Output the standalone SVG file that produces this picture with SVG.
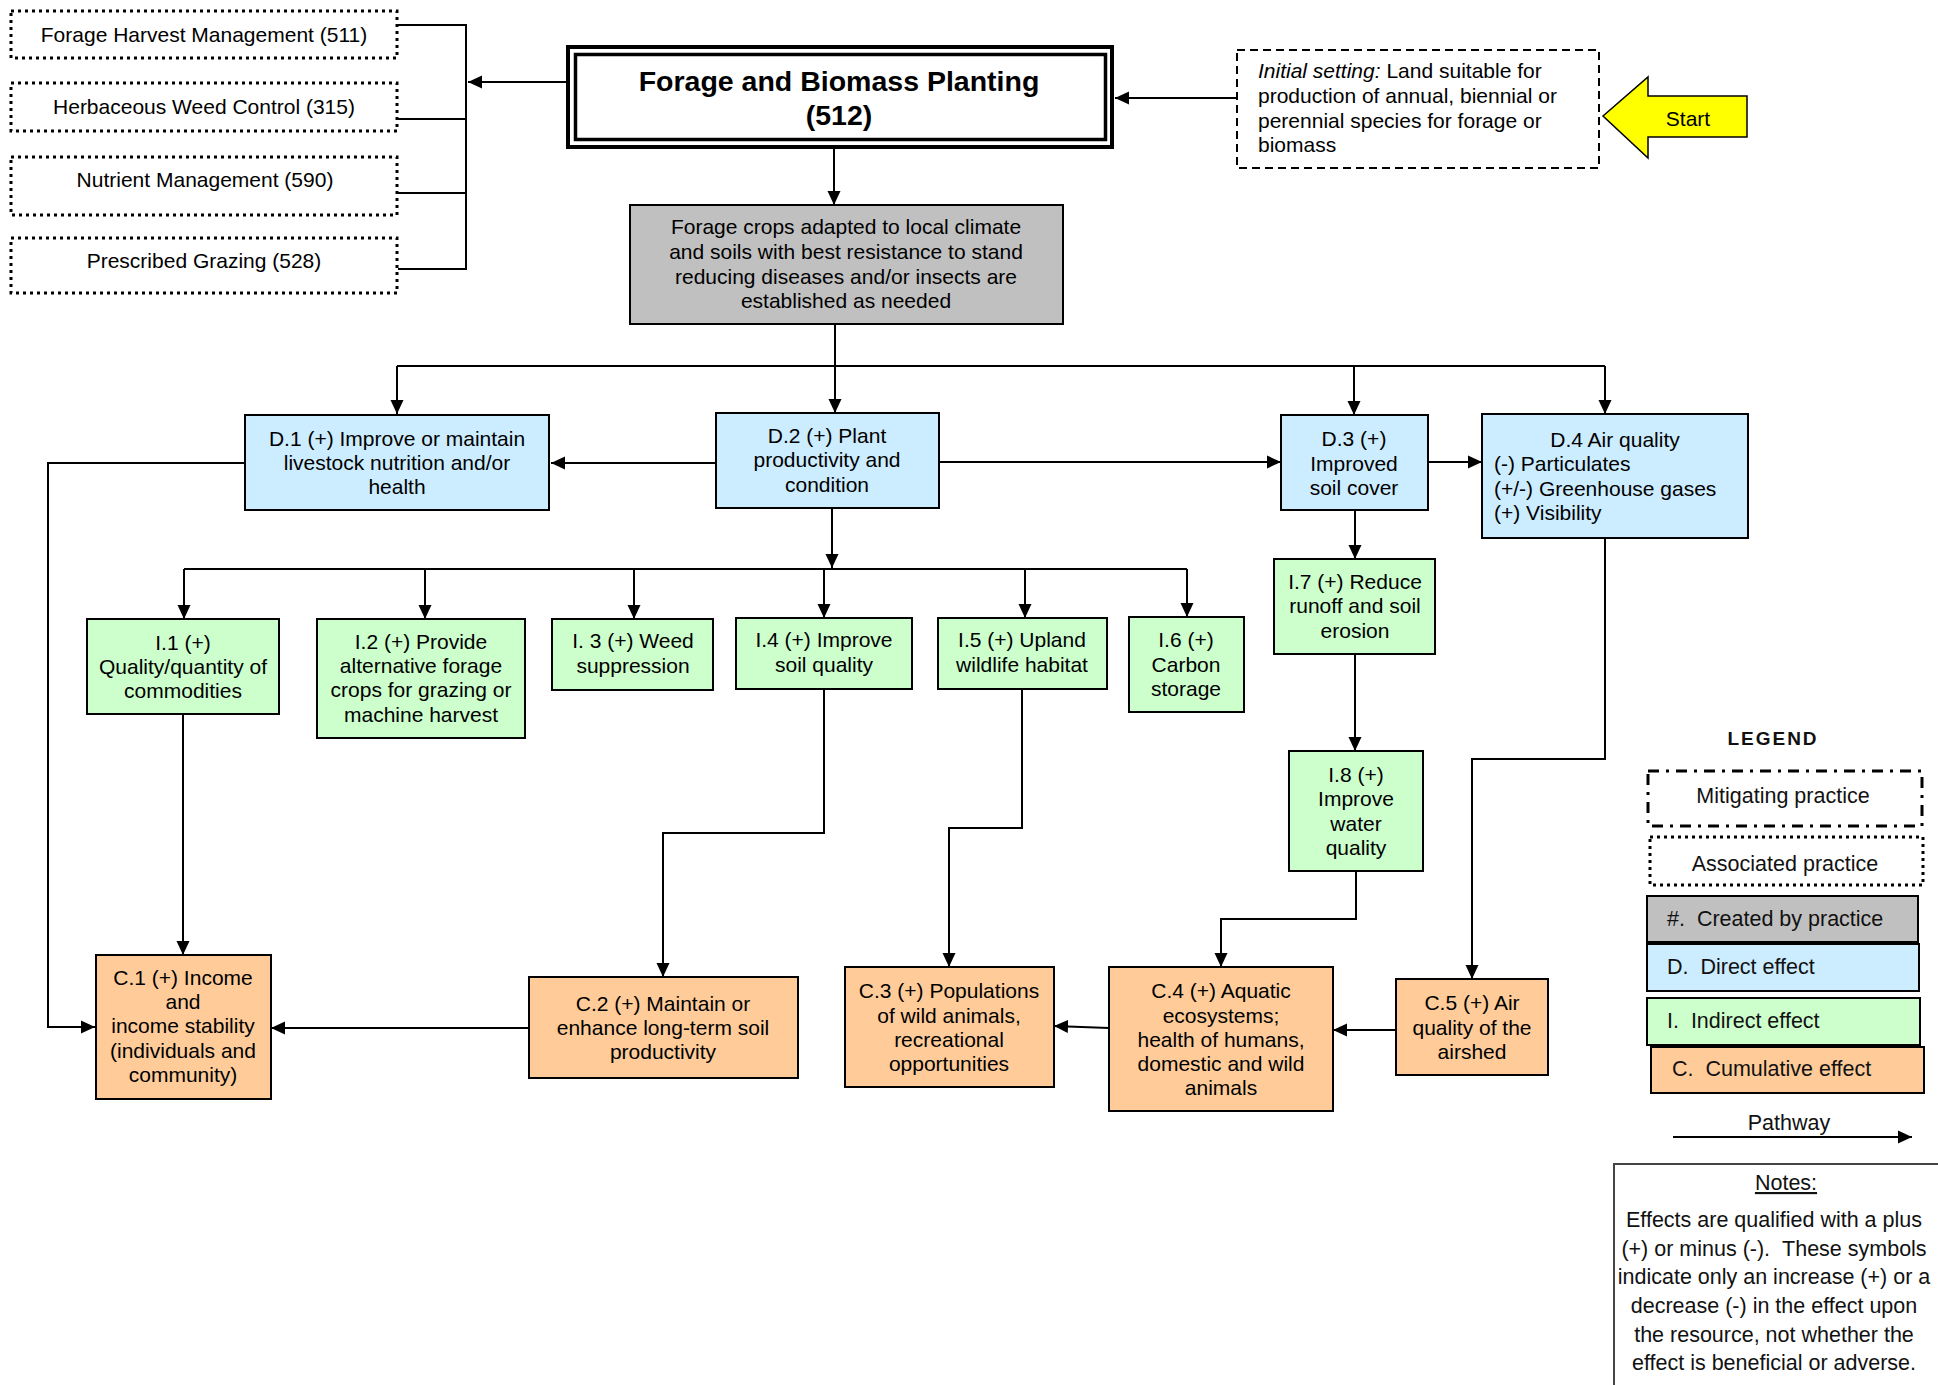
<svg xmlns="http://www.w3.org/2000/svg" width="1938" height="1385" viewBox="0 0 1938 1385">
<style>
.t{font-family:"Liberation Sans",Arial,sans-serif;font-size:21px;text-anchor:middle;fill:#000}
.tl{text-anchor:start}
.title{font-size:28.5px;font-weight:bold}
.b{stroke:#000;stroke-width:2}
.d{fill:#CCECFF}
.i{fill:#CCFFCC}
.c{fill:#FFCC99}
.g{fill:#C0C0C0}
.assoc{fill:#fff;stroke:#000;stroke-width:3;stroke-dasharray:3 4}
.mitig{fill:#fff;stroke:#000;stroke-width:3;stroke-dasharray:11 7 3 7}
.lg{font-family:"Liberation Sans",Arial,sans-serif;font-size:21.5px;fill:#111}
.lgc{text-anchor:middle}
.lgh{font-size:19px;font-weight:bold;letter-spacing:2px}
#connectors path{fill:none;stroke:#000;stroke-width:2}
.arr{marker-end:url(#ah)}
</style>
<defs>
<marker id="ah" markerUnits="userSpaceOnUse" markerWidth="14" markerHeight="14" refX="14" refY="7" orient="auto" viewBox="0 0 14 14"><path d="M0,0.5 L14,7 L0,13.5 z" fill="#000"/></marker>
</defs>
<rect width="1938" height="1385" fill="#fff"/>

<g id="connectors">
<path d="M398,25 H466 M398,119 H466 M398,193 H466 M398,269 H466 M466,24 V270"/>
<path class="arr" d="M566,82 H468"/>
<path class="arr" d="M1237,98 H1115"/>
<path class="arr" d="M834,149 V205"/>
<path d="M835,324 V366 M397,366 H1605"/>
<path class="arr" d="M397,366 V414"/>
<path class="arr" d="M835,366 V413"/>
<path class="arr" d="M1354,366 V415"/>
<path class="arr" d="M1605,366 V414"/>
<path class="arr" d="M716,463 H551"/>
<path class="arr" d="M245,463 H48 V1027 H95"/>
<path class="arr" d="M939,462 H1281"/>
<path class="arr" d="M1428,462 H1482"/>
<path class="arr" d="M832,508 V568"/>
<path d="M184,569 H1187"/>
<path class="arr" d="M184,569 V619"/>
<path class="arr" d="M425,569 V619"/>
<path class="arr" d="M634,569 V619"/>
<path class="arr" d="M824,569 V618"/>
<path class="arr" d="M1025,569 V618"/>
<path class="arr" d="M1187,569 V617"/>
<path class="arr" d="M1355,510 V559"/>
<path class="arr" d="M1355,654 V751"/>
<path class="arr" d="M183,714 V955"/>
<path class="arr" d="M824,689 V833 H663 V977"/>
<path class="arr" d="M1022,689 V828 H949 V967"/>
<path class="arr" d="M1356,871 V919 H1221 V967"/>
<path class="arr" d="M1605,538 V759 H1472 V979"/>
<path class="arr" d="M529,1028 H271"/>
<path class="arr" d="M1109,1028 L1054,1026"/>
<path class="arr" d="M1396,1030 H1333"/>
</g>

<g id="assoc1"><rect class="assoc" x="11" y="11" width="386" height="47"/><text class="t" x="204" y="42">Forage Harvest Management (511)</text></g>
<g id="assoc2"><rect class="assoc" x="11" y="83" width="386" height="48"/><text class="t" x="204" y="114">Herbaceous Weed Control (315)</text></g>
<g id="assoc3"><rect class="assoc" x="11" y="157" width="386" height="58"/><text class="t" x="205" y="187">Nutrient Management (590)</text></g>
<g id="assoc4"><rect class="assoc" x="11" y="238" width="386" height="55"/><text class="t" x="204" y="268">Prescribed Grazing (528)</text></g>

<g id="practice">
<rect x="568" y="47" width="544" height="100" fill="#fff" stroke="#000" stroke-width="4"/>
<rect x="575.5" y="54.5" width="530" height="85" fill="none" stroke="#000" stroke-width="3.5"/>
<text class="t title" x="839" y="91">Forage and Biomass Planting</text>
<text class="t title" x="839" y="125">(512)</text>
</g>

<g id="initial">
<rect x="1237" y="50" width="362" height="118" fill="#fff" stroke="#000" stroke-width="2" stroke-dasharray="8 5"/>
<text class="t tl"><tspan x="1258" y="78"><tspan font-style="italic">Initial setting:</tspan> Land suitable for</tspan><tspan x="1258" y="103">production of annual, biennial or</tspan><tspan x="1258" y="128">perennial species for forage or</tspan><tspan x="1258" y="152">biomass</tspan></text>
</g>

<g id="start">
<polygon points="1603,116 1648,77 1648,96 1747,96 1747,137 1648,137 1648,158" fill="#FFFF00" stroke="#000" stroke-width="1.5"/>
<text class="t" x="1688" y="126">Start</text>
</g>

<g id="created">
<rect class="b g" x="630" y="205" width="433" height="119"/>
<text class="t"><tspan x="846" y="234">Forage crops adapted to local climate</tspan><tspan x="846" y="259">and soils with best resistance to stand</tspan><tspan x="846" y="284">reducing diseases and/or insects are</tspan><tspan x="846" y="308">established as needed</tspan></text>
</g>

<g id="D1"><rect class="b d" x="245" y="415" width="304" height="95"/>
<text class="t"><tspan x="397" y="446">D.1 (+) Improve or maintain</tspan><tspan x="397" y="470">livestock nutrition and/or</tspan><tspan x="397" y="494">health</tspan></text></g>
<g id="D2"><rect class="b d" x="716" y="413" width="223" height="95"/>
<text class="t"><tspan x="827" y="443">D.2 (+) Plant</tspan><tspan x="827" y="467">productivity and</tspan><tspan x="827" y="492">condition</tspan></text></g>
<g id="D3"><rect class="b d" x="1281" y="415" width="147" height="95"/>
<text class="t"><tspan x="1354" y="446">D.3 (+)</tspan><tspan x="1354" y="471">Improved</tspan><tspan x="1354" y="495">soil cover</tspan></text></g>
<g id="D4"><rect class="b d" x="1482" y="414" width="266" height="124"/>
<text class="t"><tspan x="1615" y="447">D.4 Air quality</tspan></text>
<text class="t tl"><tspan x="1494" y="471">(-) Particulates</tspan><tspan x="1494" y="496">(+/-) Greenhouse gases</tspan><tspan x="1494" y="520">(+) Visibility</tspan></text></g>

<g id="I1"><rect class="b i" x="87" y="619" width="192" height="95"/>
<text class="t"><tspan x="183" y="650">I.1 (+)</tspan><tspan x="183" y="674">Quality/quantity of</tspan><tspan x="183" y="698">commodities</tspan></text></g>
<g id="I2"><rect class="b i" x="317" y="619" width="208" height="119"/>
<text class="t"><tspan x="421" y="649">I.2 (+) Provide</tspan><tspan x="421" y="673">alternative forage</tspan><tspan x="421" y="697">crops for grazing or</tspan><tspan x="421" y="722">machine harvest</tspan></text></g>
<g id="I3"><rect class="b i" x="552" y="619" width="161" height="71"/>
<text class="t"><tspan x="633" y="648">I. 3 (+) Weed</tspan><tspan x="633" y="673">suppression</tspan></text></g>
<g id="I4"><rect class="b i" x="736" y="618" width="176" height="71"/>
<text class="t"><tspan x="824" y="647">I.4 (+) Improve</tspan><tspan x="824" y="672">soil quality</tspan></text></g>
<g id="I5"><rect class="b i" x="938" y="618" width="169" height="71"/>
<text class="t"><tspan x="1022" y="647">I.5 (+) Upland</tspan><tspan x="1022" y="672">wildlife habitat</tspan></text></g>
<g id="I6"><rect class="b i" x="1129" y="617" width="115" height="95"/>
<text class="t"><tspan x="1186" y="647">I.6 (+)</tspan><tspan x="1186" y="672">Carbon</tspan><tspan x="1186" y="696">storage</tspan></text></g>
<g id="I7"><rect class="b i" x="1274" y="559" width="161" height="95"/>
<text class="t"><tspan x="1355" y="589">I.7 (+) Reduce</tspan><tspan x="1355" y="613">runoff and soil</tspan><tspan x="1355" y="638">erosion</tspan></text></g>
<g id="I8"><rect class="b i" x="1289" y="751" width="134" height="120"/>
<text class="t"><tspan x="1356" y="782">I.8 (+)</tspan><tspan x="1356" y="806">Improve</tspan><tspan x="1356" y="831">water</tspan><tspan x="1356" y="855">quality</tspan></text></g>

<g id="C1"><rect class="b c" x="96" y="955" width="175" height="144"/>
<text class="t"><tspan x="183" y="985">C.1 (+) Income</tspan><tspan x="183" y="1009">and</tspan><tspan x="183" y="1033">income stability</tspan><tspan x="183" y="1058">(individuals and</tspan><tspan x="183" y="1082">community)</tspan></text></g>
<g id="C2"><rect class="b c" x="529" y="977" width="269" height="101"/>
<text class="t"><tspan x="663" y="1011">C.2 (+) Maintain or</tspan><tspan x="663" y="1035">enhance long-term soil</tspan><tspan x="663" y="1059">productivity</tspan></text></g>
<g id="C3"><rect class="b c" x="845" y="967" width="209" height="120"/>
<text class="t"><tspan x="949" y="998">C.3 (+) Populations</tspan><tspan x="949" y="1023">of wild animals,</tspan><tspan x="949" y="1047">recreational</tspan><tspan x="949" y="1071">opportunities</tspan></text></g>
<g id="C4"><rect class="b c" x="1109" y="967" width="224" height="144"/>
<text class="t"><tspan x="1221" y="998">C.4 (+) Aquatic</tspan><tspan x="1221" y="1023">ecosystems;</tspan><tspan x="1221" y="1047">health of humans,</tspan><tspan x="1221" y="1071">domestic and wild</tspan><tspan x="1221" y="1095">animals</tspan></text></g>
<g id="C5"><rect class="b c" x="1396" y="979" width="152" height="96"/>
<text class="t"><tspan x="1472" y="1010">C.5 (+) Air</tspan><tspan x="1472" y="1035">quality of the</tspan><tspan x="1472" y="1059">airshed</tspan></text></g>

<g id="legend">
<text class="lg lgc lgh" x="1773" y="745">LEGEND</text>
<rect class="mitig" x="1648" y="771" width="274" height="55"/>
<text class="lg lgc" x="1783" y="803">Mitigating practice</text>
<rect class="assoc" x="1650" y="837" width="273" height="48"/>
<text class="lg lgc" x="1785" y="871">Associated practice</text>
<rect class="b g" x="1647" y="896" width="271" height="46"/>
<text class="lg" x="1667" y="926">#.&#160;&#160;Created by practice</text>
<rect class="b d" x="1647" y="944" width="272" height="47"/>
<text class="lg" x="1667" y="974">D.&#160;&#160;Direct effect</text>
<rect class="b i" x="1647" y="998" width="273" height="47"/>
<text class="lg" x="1667" y="1028">I.&#160;&#160;Indirect effect</text>
<rect class="b c" x="1651" y="1047" width="273" height="46"/>
<text class="lg" x="1672" y="1076">C.&#160;&#160;Cumulative effect</text>
<path d="M1673,1137 H1912" stroke="#000" stroke-width="2" marker-end="url(#ah)"/>
<text class="lg lgc" x="1789" y="1130">Pathway</text>
</g>

<g id="notes">
<rect x="1614" y="1164" width="330" height="260" fill="#fff" stroke="#444" stroke-width="2"/>
<text class="lg lgc" x="1786" y="1190" text-decoration="underline">Notes:</text>
<text class="lg lgc"><tspan x="1774" y="1227">Effects are qualified with a plus</tspan><tspan x="1774" y="1256">(+) or minus (-).&#160;&#160;These symbols</tspan><tspan x="1774" y="1284">indicate only an increase (+) or a</tspan><tspan x="1774" y="1313">decrease (-) in the effect upon</tspan><tspan x="1774" y="1342">the resource, not whether the</tspan><tspan x="1774" y="1370">effect is beneficial or adverse.</tspan></text>
</g>
</svg>
